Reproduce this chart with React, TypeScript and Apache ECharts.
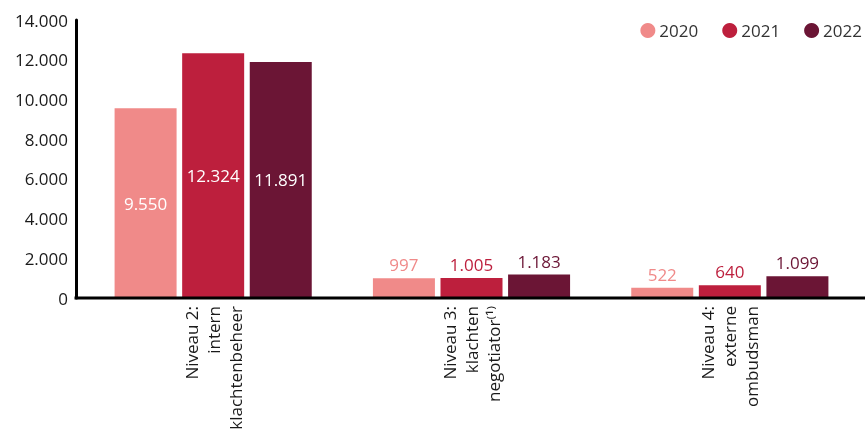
import React, { useEffect, useRef } from "react";
import * as echarts from "echarts";

const categories = ["Niveau 2:\nintern\nklachtenbeheer", "Niveau 3:\nklachten\nnegotiator⁽¹⁾", "Niveau 4:\nexterne\nombudsman"];
const seriesNames = ["2020", "2021", "2022"];
const values2020 = [9550, 997, 522];
const values2021 = [12324, 1005, 640];
const values2022 = [11891, 1183, 1099];
const colors = ["#F08A89", "#BD1F3D", "#6B1535"];
const yTicks = { min: 0, max: 14000, interval: 2000 };

const FONT = "Open Sans";
const fmt = (v: number) => String(v).replace(/\B(?=(\d{3})+(?!\d))/g, ".");

const GRID = { left: 84, right: 9, top: 20, bottom: 142 };
const W = 868;
const H = 440;

export default function App() {
  const ref = useRef<HTMLDivElement>(null);
  useEffect(() => {
    if (!ref.current) return;
    const chart = echarts.init(ref.current, null, { renderer: "svg" });
    const all = [values2020, values2021, values2022];
    const axisY = H - GRID.bottom;
    chart.setOption({
      animation: false,
      textStyle: { fontFamily: FONT },
      legend: {
        top: 17,
        right: 1,
        icon: "circle",
        itemWidth: 15,
        itemHeight: 15,
        itemGap: 24,
        textStyle: { fontSize: 17, color: "#333", fontFamily: FONT, padding: [0, 0, 0, -1] },
        data: seriesNames,
      },
      grid: GRID,
      graphic: [
        {
          type: "line",
          z: 10,
          shape: { x1: GRID.left - 9.5, y1: axisY, x2: W - 3, y2: axisY },
          style: { stroke: "#000", lineWidth: 3 },
        },
      ],
      xAxis: {
        type: "category",
        data: categories,
        axisLine: { show: false },
        axisTick: { show: false },
        axisLabel: {
          rotate: 90,
          interval: 0,
          fontSize: 17,
          color: "#1a1a1a",
          fontFamily: FONT,
          margin: 8,
          lineHeight: 22,
        },
      },
      yAxis: {
        type: "value",
        min: yTicks.min,
        max: yTicks.max,
        interval: yTicks.interval,
        offset: 8,
        axisLine: { show: true, lineStyle: { color: "#000", width: 3 } },
        axisTick: { show: false },
        splitLine: { show: false },
        axisLabel: { fontSize: 17, color: "#1a1a1a", fontFamily: FONT, margin: 8, formatter: (v: number) => fmt(v) },
      },
      series: seriesNames.map((name, si) => ({
        name,
        type: "bar",
        barWidth: 62,
        barGap: "9%",
        itemStyle: { color: colors[si] },
        data: all[si].map((v, i) => ({
          value: v,
          label: {
            show: true,
            position: i === 0 ? "inside" : "top",
            color: i === 0 ? "#fff" : colors[si],
            fontSize: 17,
            fontFamily: FONT,
            distance: 5,
            formatter: () => fmt(v),
          },
        })),
      })),
    });
    return () => chart.dispose();
  }, []);
  return <div ref={ref} style={{ position: "fixed", left: 0, top: 0, width: W, height: H }} />;
}
